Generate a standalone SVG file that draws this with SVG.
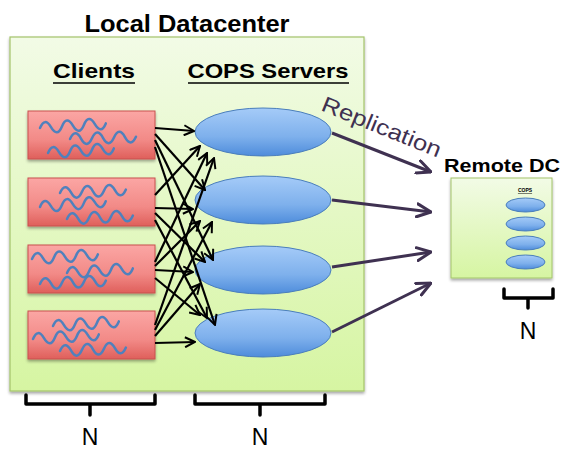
<svg xmlns="http://www.w3.org/2000/svg" width="561" height="449" viewBox="0 0 561 449">
  <defs>
    <linearGradient id="gGreen" x1="0" y1="0" x2="0" y2="1">
      <stop offset="0" stop-color="#f2fbe6"/>
      <stop offset="1" stop-color="#d6f5a2"/>
    </linearGradient>
    <linearGradient id="gRed" x1="0" y1="0" x2="0" y2="1">
      <stop offset="0" stop-color="#fba6a4"/>
      <stop offset="0.6" stop-color="#f28a87"/>
      <stop offset="1" stop-color="#df5f5b"/>
    </linearGradient>
    <linearGradient id="gBlue" x1="0" y1="0" x2="0" y2="1">
      <stop offset="0" stop-color="#a5cbf8"/>
      <stop offset="0.6" stop-color="#7eb0ec"/>
      <stop offset="1" stop-color="#4e8cdb"/>
    </linearGradient>
    <filter id="shadow" x="-10%" y="-10%" width="120%" height="130%">
      <feGaussianBlur in="SourceAlpha" stdDeviation="1.5"/>
      <feOffset dx="0" dy="2" result="b"/>
      <feComponentTransfer><feFuncA type="linear" slope="0.35"/></feComponentTransfer>
      <feMerge><feMergeNode/><feMergeNode in="SourceGraphic"/></feMerge>
    </filter>
    <marker id="ahBlack" viewBox="0 0 12 12" refX="11" refY="6" markerWidth="12" markerHeight="12" markerUnits="userSpaceOnUse" orient="auto">
      <path d="M1,1 L11,6 L1,11" fill="none" stroke="#000" stroke-width="2"/>
    </marker>
    <marker id="ahPurple" viewBox="0 0 16 16" refX="15" refY="8" markerWidth="16" markerHeight="16" markerUnits="userSpaceOnUse" orient="auto">
      <path d="M1,1.5 L15,8 L1,14.5" fill="none" stroke="#3f3151" stroke-width="3" stroke-linecap="round"/>
    </marker>
    <!-- one wavy "request" squiggle, reused inside every client box -->
    <path id="wave" d="M0,0 q5.5,-11 11,0 t11,0 t11,0 t11,0 t11,0 t11,0"/>
  </defs>
  <style>
    .title { font-family: "Liberation Sans", Arial, sans-serif; font-weight: bold; fill: #000; }
    .n { font-family: "Liberation Sans", Arial, sans-serif; font-size: 23px; fill: #000; text-anchor: middle; }
    .client rect { fill: url(#gRed); stroke: #c9514e; stroke-width: 1; }
    .client use { fill: none; stroke: #4f81bd; stroke-width: 2.5; stroke-linecap: round; }
    .server ellipse { fill: url(#gBlue); stroke: #4a7ebb; stroke-width: 1; }
    .mesh line { stroke: #000; stroke-width: 2.2; marker-end: url(#ahBlack); }
    .repl line { stroke: #3f3151; stroke-width: 3; marker-end: url(#ahPurple); }
    .brace { fill: none; stroke: #000; stroke-width: 3.5; stroke-linejoin: round; stroke-linecap: round; }
  </style>

  <!-- local datacenter -->
  <g id="local-dc">
    <text class="title" x="187" y="32" font-size="23" text-anchor="middle" textLength="205" lengthAdjust="spacingAndGlyphs">Local Datacenter</text>
    <rect x="10" y="37" width="354" height="354" fill="url(#gGreen)" stroke="#a3c46a" stroke-width="1.2" filter="url(#shadow)"/>
    <text class="title" x="94" y="78" font-size="21" text-anchor="middle" textLength="82" lengthAdjust="spacingAndGlyphs">Clients</text>
    <line x1="53" y1="83" x2="135" y2="83" stroke="#000" stroke-width="1.5"/>
    <text class="title" x="268" y="78" font-size="21" text-anchor="middle" textLength="161" lengthAdjust="spacingAndGlyphs">COPS Servers</text>
    <line x1="188" y1="83" x2="349" y2="83" stroke="#000" stroke-width="1.5"/>
  </g>

  <!-- clients -->
  <g id="client-1" class="client" filter="url(#shadow)">
    <rect x="28" y="111" width="127" height="48"/>
    <use href="#wave" transform="translate(40,128) rotate(-4)"/>
    <use href="#wave" transform="translate(70,139) rotate(-2)"/>
    <use href="#wave" transform="translate(48,153) rotate(-4)"/>
  </g>
  <g id="client-2" class="client" filter="url(#shadow)">
    <rect x="28" y="178" width="127" height="48"/>
    <use href="#wave" transform="translate(60,193) rotate(-3)"/>
    <use href="#wave" transform="translate(40,207) rotate(-5)"/>
    <use href="#wave" transform="translate(67,219) rotate(-3)"/>
  </g>
  <g id="client-3" class="client" filter="url(#shadow)">
    <rect x="28" y="245" width="127" height="48"/>
    <use href="#wave" transform="translate(32,259) rotate(-4)"/>
    <use href="#wave" transform="translate(67,273) rotate(-4)"/>
    <use href="#wave" transform="translate(40,284) rotate(-3)"/>
  </g>
  <g id="client-4" class="client" filter="url(#shadow)">
    <rect x="28" y="311" width="127" height="48"/>
    <use href="#wave" transform="translate(53,326) rotate(-4)"/>
    <use href="#wave" transform="translate(33,339) rotate(-4)"/>
    <use href="#wave" transform="translate(60,351) rotate(-3)"/>
  </g>

  <!-- COPS servers -->
  <g id="server-1" class="server"><ellipse cx="263" cy="132" rx="68" ry="24"/></g>
  <g id="server-2" class="server"><ellipse cx="263" cy="200" rx="68" ry="24"/></g>
  <g id="server-3" class="server"><ellipse cx="263" cy="270" rx="68" ry="24"/></g>
  <g id="server-4" class="server"><ellipse cx="263" cy="333" rx="68" ry="24"/></g>

  <!-- remote datacenter -->
  <g id="remote-dc">
    <text class="title" x="502" y="172" font-size="18" text-anchor="middle" textLength="116" lengthAdjust="spacingAndGlyphs">Remote DC</text>
    <rect x="451" y="178" width="101" height="100" fill="url(#gGreen)" stroke="#a3c46a" stroke-width="1" filter="url(#shadow)"/>
    <text x="525" y="192" font-family="Liberation Sans, Arial, sans-serif" font-size="5" font-weight="bold" text-anchor="middle" text-decoration="underline">COPS</text>
    <g class="server">
      <ellipse cx="525.5" cy="205" rx="19.5" ry="7"/>
      <ellipse cx="525.5" cy="224" rx="19.5" ry="7"/>
      <ellipse cx="525.5" cy="243" rx="19.5" ry="7"/>
      <ellipse cx="525.5" cy="262" rx="19.5" ry="7"/>
    </g>
  </g>

  <!-- connectors -->
  <g id="connectors">
    <g class="mesh">
      <line x1="155" y1="128" x2="194" y2="131"/>
      <line x1="155" y1="134" x2="205" y2="190"/>
      <line x1="155" y1="140" x2="213" y2="260"/>
      <line x1="155" y1="147" x2="215" y2="325"/>

      <line x1="155" y1="195" x2="200" y2="146"/>
      <line x1="155" y1="208" x2="193" y2="209"/>
      <line x1="155" y1="213" x2="205" y2="262"/>
      <line x1="155" y1="220" x2="207" y2="318"/>

      <line x1="155" y1="262" x2="207" y2="153"/>
      <line x1="155" y1="266" x2="200" y2="221"/>
      <line x1="155" y1="270" x2="193" y2="272"/>
      <line x1="155" y1="278" x2="200" y2="315"/>

      <line x1="155" y1="325" x2="214" y2="158"/>
      <line x1="155" y1="330" x2="212" y2="222"/>
      <line x1="155" y1="336" x2="200" y2="284"/>
      <line x1="155" y1="343" x2="195" y2="342"/>
    </g>
    <g class="repl">
      <line x1="332" y1="133" x2="431" y2="172"/>
      <line x1="332" y1="200" x2="431" y2="212"/>
      <line x1="332" y1="267" x2="431" y2="252"/>
      <line x1="332" y1="332" x2="431" y2="283"/>
    </g>
    <text x="320" y="110" transform="rotate(22 320 110)" font-family="Liberation Sans, Arial, sans-serif" font-size="22" fill="#3f3151" textLength="127" lengthAdjust="spacingAndGlyphs">Replication</text>
  </g>

  <!-- counts -->
  <g id="count-clients">
    <path class="brace" d="M26,395 V404 H155 V395 M90,404 V415"/>
    <text class="n" x="90" y="445">N</text>
  </g>
  <g id="count-servers">
    <path class="brace" d="M195,395 V404 H325 V395 M260,404 V415"/>
    <text class="n" x="260" y="445">N</text>
  </g>
  <g id="count-remote">
    <path class="brace" d="M504,289 V298 H553 V289 M528,298 V308"/>
    <text class="n" x="528" y="339">N</text>
  </g>
</svg>
